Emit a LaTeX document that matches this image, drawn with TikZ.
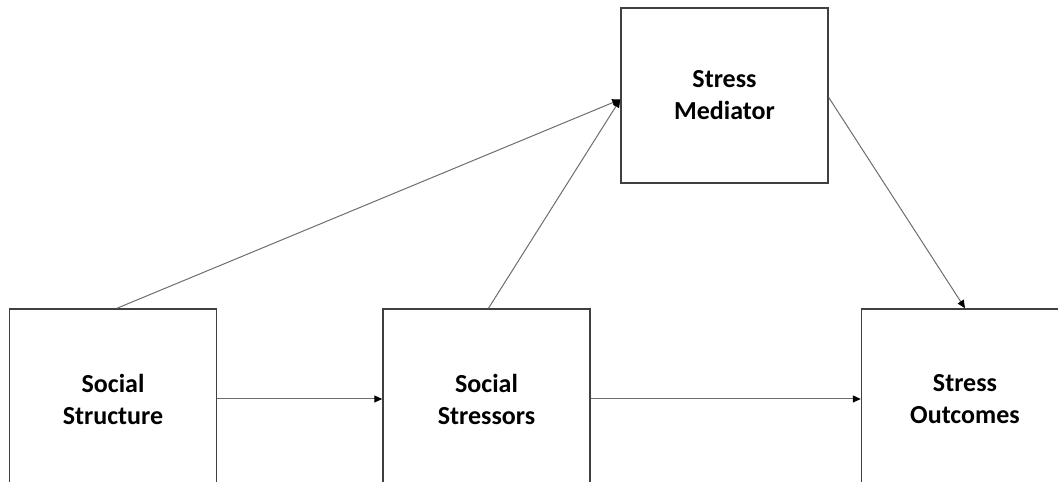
\documentclass[tikz,border=0pt]{standalone}
\usepackage{fontspec}
\setmainfont{Carlito}
\usetikzlibrary{arrows.meta,positioning}
\definecolor{bd}{HTML}{404040}
\definecolor{ln}{HTML}{6E6E6E}
\tikzset{
  sbox/.style={
    rectangle, draw=bd, line width=1.5pt, fill=white,
    text=black, font=\bfseries\fontsize{26}{32}\selectfont,
    minimum height=180pt, minimum width=207pt, text width=190pt,
    align=center, inner sep=0pt
  },
  mbox/.style={sbox, minimum height=175pt},
  arr/.style={-{Triangle[length=8pt,width=7pt,black]}, line width=1pt, ln}
}
\begin{document}
\begin{tikzpicture}[x=1pt, y=1pt]

\clip (0,0) rectangle (1058,482);
\fill[white] (0,0) rectangle (1058,482);

\node[sbox] (structure) at (113,83) {Social\\Structure};

\node[sbox, right=165pt of structure] (stressors) {Social\\Stressors};

\node[sbox, right=270pt of stressors] (outcomes) {Stress\\Outcomes};

\node[mbox] (mediator) at (724.5,386.5) {Stress\\Mediator};

\draw[arr] (structure) -- (stressors);
\draw[arr] (stressors) -- (outcomes);
\draw[arr] ([xshift=4pt]structure.north) -- ([yshift=-4pt]mediator.west);
\draw[arr] ([xshift=2pt]stressors.north) -- ([yshift=-4pt]mediator.west);
\draw[arr] ([yshift=-2pt]mediator.east) -- (outcomes.north);

\end{tikzpicture}
\end{document}
